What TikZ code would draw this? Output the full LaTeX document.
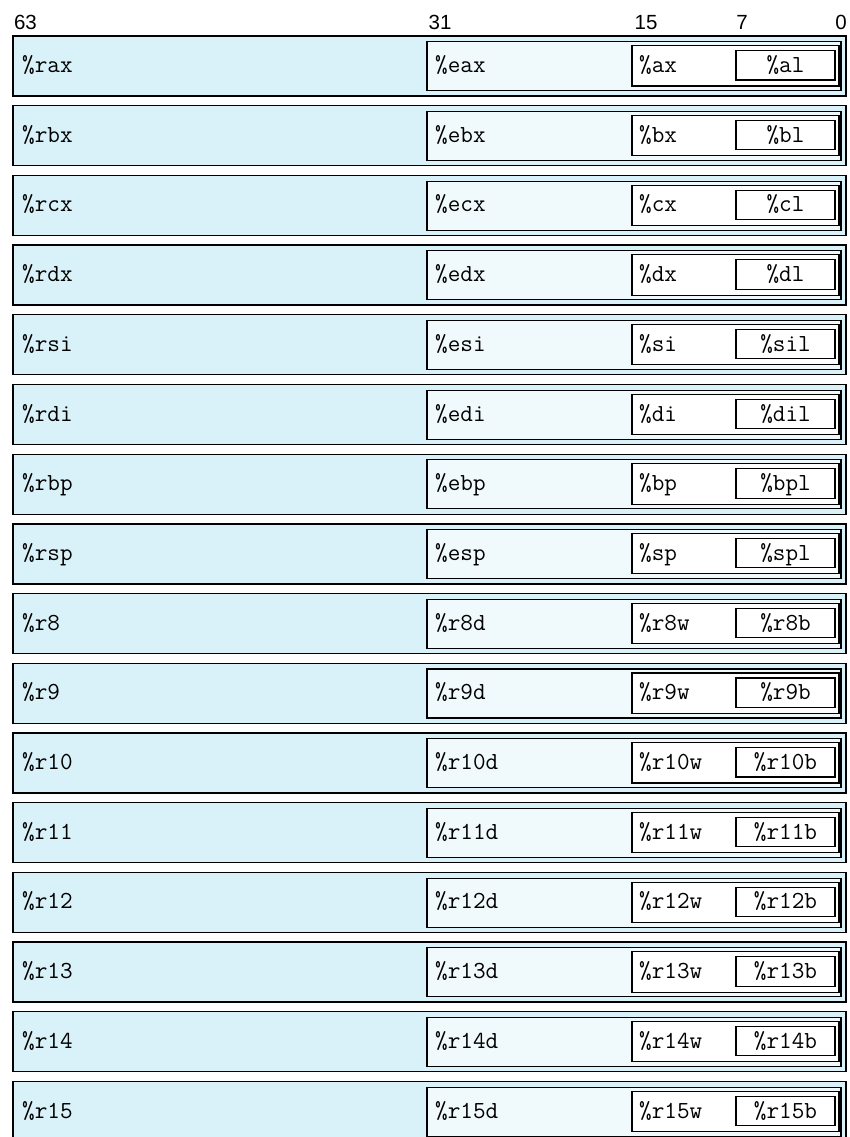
\documentclass[tikz,border=0pt]{standalone}
\usepackage{fontspec}
\setsansfont{Liberation Sans}
\definecolor{outerblue}{HTML}{D9F1F8}
\definecolor{midblue}{HTML}{F0FAFD}
\begin{document}
\begin{tikzpicture}[x=1pt,y=-1pt,
  regout/.style={draw=black, line width=1.3pt, fill=outerblue},
  regmid/.style={draw=black, line width=1.1pt, fill=midblue},
  regw/.style={draw=black, line width=1.1pt, fill=white},
  regb/.style={draw=black, line width=1.1pt, fill=white},
  lbl/.style={font=\ttfamily\fontsize{24.5}{24}\selectfont, anchor=base west, inner sep=0pt},
  lblc/.style={font=\ttfamily\fontsize{24.5}{24}\selectfont, anchor=base, inner sep=0pt},
  bitlbl/.style={font=\sffamily\fontsize{20.5}{20}\selectfont, anchor=base, inner sep=0pt}]
\useasboundingbox (0,0) rectangle (849,1137);
\fill[white] (0,0) rectangle (849,1137);
\node[bitlbl] (b63) at (25.5,30) {63};
\node[bitlbl] (b31) at (440,30) {31};
\node[bitlbl] (b15) at (646,30) {15};
\node[bitlbl] (b7) at (742,30) {7};
\node[bitlbl] (b0) at (841,30) {0};
\foreach \q/\d/\w/\b [count=\i from 0] in {rax/eax/ax/al, rbx/ebx/bx/bl, rcx/ecx/cx/cl, rdx/edx/dx/dl, rsi/esi/si/sil, rdi/edi/di/dil, rbp/ebp/bp/bpl, rsp/esp/sp/spl, r8/r8d/r8w/r8b, r9/r9d/r9w/r9b, r10/r10d/r10w/r10b, r11/r11d/r11w/r11b, r12/r12d/r12w/r12b, r13/r13d/r13w/r13b, r14/r14d/r14w/r14b, r15/r15d/r15w/r15b}{
  \pgfmathsetmacro\t{36+69.7*\i}
  \draw[regout] (13,\t) rectangle (846,\t+60);
  \draw[regmid] (427,\t+5.7) rectangle (841,\t+54.7);
  \draw[regw] (632,\t+9.7) rectangle (839,\t+50);
  \draw[regb] (736,\t+14.7) rectangle (835,\t+44);
  \node[lbl] (q\i) at (22,\t+36.5) {\%\q};
  \node[lbl] (d\i) at (435,\t+36.5) {\%\d};
  \node[lbl] (w\i) at (639,\t+36.5) {\%\w};
  \node[lblc] (l\i) at (785.5,\t+36.5) {\%\b};
}
\end{tikzpicture}
\end{document}
